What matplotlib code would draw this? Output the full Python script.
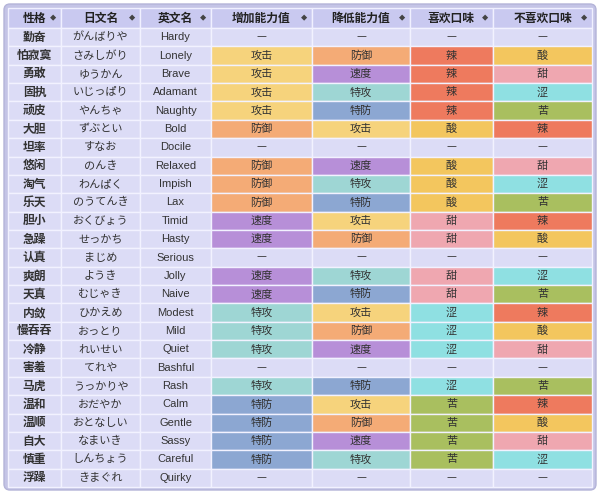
import matplotlib
matplotlib.use("Agg")
import matplotlib.pyplot as plt
from matplotlib.patches import Rectangle, FancyBboxPatch

plt.rcParams['font.family'] = ['Noto Sans CJK SC', 'DejaVu Sans']

headers = ["性格", "日文名", "英文名", "增加能力值", "降低能力值", "喜欢口味", "不喜欢口味"]
cn_names = ["勤奋","怕寂寞","勇敢","固执","顽皮","大胆","坦率","悠闲","淘气","乐天","胆小","急躁","认真",
            "爽朗","天真","内敛","慢吞吞","冷静","害羞","马虎","温和","温顺","自大","慎重","浮躁"]
jp_names = ["がんばりや","さみしがり","ゆうかん","いじっぱり","やんちゃ","ずぶとい","すなお","のんき","わんぱく",
            "のうてんき","おくびょう","せっかち","まじめ","ようき","むじゃき","ひかえめ","おっとり","れいせい",
            "てれや","うっかりや","おだやか","おとなしい","なまいき","しんちょう","きまぐれ"]
en_names = ["Hardy","Lonely","Brave","Adamant","Naughty","Bold","Docile","Relaxed","Impish","Lax","Timid","Hasty",
            "Serious","Jolly","Naive","Modest","Mild","Quiet","Bashful","Rash","Calm","Gentle","Sassy","Careful","Quirky"]
D = "—"
increase = [D,"攻击","攻击","攻击","攻击","防御",D,"防御","防御","防御","速度","速度",D,"速度","速度",
            "特攻","特攻","特攻",D,"特攻","特防","特防","特防","特防",D]
decrease = [D,"防御","速度","特攻","特防","攻击",D,"速度","特攻","特防","攻击","防御",D,"特攻","特防",
            "攻击","防御","速度",D,"特防","攻击","防御","速度","特攻",D]
likes = [D,"辣","辣","辣","辣","酸",D,"酸","酸","酸","甜","甜",D,"甜","甜","涩","涩","涩",D,"涩","苦","苦","苦","苦",D]
dislikes = [D,"酸","甜","涩","苦","辣",D,"甜","涩","苦","辣","酸",D,"涩","苦","辣","酸","甜",D,"苦","辣","酸","甜","涩",D]

colors = {"攻击":"#f6d37c","防御":"#f4ab76","速度":"#b78fd8","特攻":"#9ed6d4","特防":"#8ca7d2",
          "辣":"#ee7a5e","酸":"#f3c65e","甜":"#efa7b0","涩":"#8fe0e2","苦":"#a9bf5f", D:"#dcdcf6"}
neutral = "#dcdcf6"
header_bg = "#c9c9f0"

col_x = [8, 61, 140, 211, 312, 410, 493, 592]
top, hdr_h = 8, 20
n = len(cn_names)
row_h = (487 - (top + hdr_h)) / n

fig = plt.figure(figsize=(6, 4.94), dpi=100)
ax = fig.add_axes([0, 0, 1, 1])
ax.set_xlim(0, 600); ax.set_ylim(494, 0); ax.axis('off')

ax.add_patch(FancyBboxPatch((4, 4), 592, 486, boxstyle="round,pad=0,rounding_size=6",
                            fc="#c4c4e6", ec="#b4b4d8", lw=1))

for j, h in enumerate(headers):
    x0, x1 = col_x[j], col_x[j+1]
    ax.add_patch(Rectangle((x0, top), x1-x0, hdr_h, fc=header_bg, ec="#f0f0ff", lw=1))
    ax.text((x0+x1)/2, top+hdr_h/2, h, ha='center', va='center', fontsize=8.5, fontweight='bold', color='#222')
    ax.text(x1-8, top+hdr_h/2, "◆", ha='center', va='center', fontsize=4.5, color='#444')

cols = [cn_names, jp_names, en_names, increase, decrease, likes, dislikes]
for i in range(n):
    y = top + hdr_h + i*row_h
    for j, col in enumerate(cols):
        x0, x1 = col_x[j], col_x[j+1]
        v = col[i]
        fc = colors.get(v, neutral) if j >= 3 else neutral
        ax.add_patch(Rectangle((x0, y), x1-x0, row_h, fc=fc, ec="#f2f2ff", lw=1))
        kw = dict(ha='center', va='center', color='#333')
        if j == 0:
            ax.text((x0+x1)/2, y+row_h/2, v, fontsize=8.5, fontweight='bold', **kw)
        elif j == 1:
            ax.text((x0+x1)/2, y+row_h/2, v, fontsize=8, **kw)
        elif j == 2:
            ax.text((x0+x1)/2, y+row_h/2, v, fontsize=8, family=['Liberation Sans','DejaVu Sans'], **kw)
        else:
            ax.text((x0+x1)/2, y+row_h/2, v, fontsize=8, **kw)

fig.savefig("out.png", dpi=100)
